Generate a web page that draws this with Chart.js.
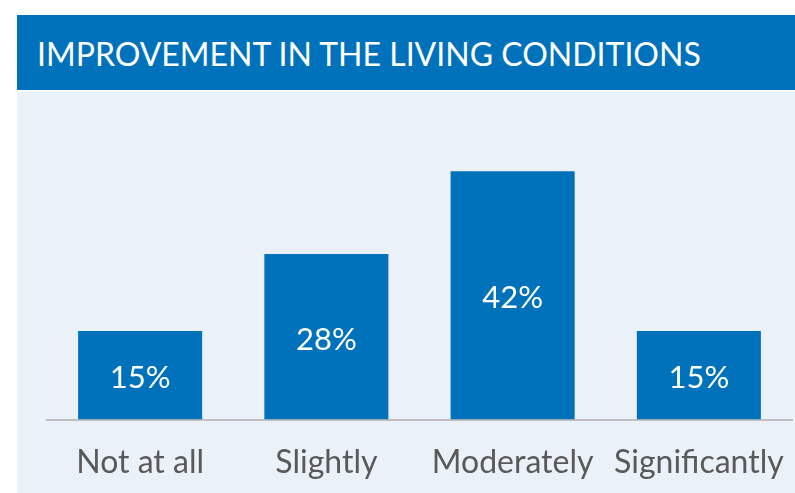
<!DOCTYPE html>
<html>
<head>
<meta charset="utf-8">
<script src="https://cdn.jsdelivr.net/npm/chart.js@4/dist/chart.umd.min.js"></script>
<style>
  html, body { margin:0; padding:0; background:#ffffff; width:795px; height:493px; overflow:hidden; }
  #header { position:absolute; left:17px; top:15px; width:778px; height:75px; background:#0071BB; }
  #title { position:absolute; left:37px; top:16px; height:75px; line-height:75px; color:#ffffff;
           font-family:Lato, sans-serif; font-size:32px; white-space:nowrap; }
  #panel { position:absolute; left:17px; top:92px; width:778px; height:401px; background:#EAF1F8; }
  #wrap { position:absolute; left:0; top:0; width:795px; height:493px; }
</style>
</head>
<body>
<div id="header"></div>
<div id="title">IMPROVEMENT IN THE LIVING CONDITIONS</div>
<div id="panel"></div>
<div id="wrap"><canvas id="c" width="795" height="493"></canvas></div>
<script>
const categories = ["Not at all", "Slightly", "Moderately", "Significantly"];
const values = [15, 28, 42, 15];
const valueLabels = ["15%", "28%", "42%", "15%"];

const FONT = "Lato, sans-serif";

const barLabels = {
  id: "barLabels",
  afterDatasetsDraw(chart) {
    const ctx = chart.ctx;
    const meta = chart.getDatasetMeta(0);
    ctx.save();
    ctx.fillStyle = "#ffffff";
    ctx.font = "31px " + FONT;
    ctx.textAlign = "center";
    ctx.textBaseline = "alphabetic";
    meta.data.forEach((bar, i) => {
      const mid = (bar.y + bar.base) / 2;
      ctx.fillText(valueLabels[i], bar.x, mid + 13);
    });
    ctx.restore();
  }
};

new Chart(document.getElementById("c"), {
  type: "bar",
  data: {
    labels: categories,
    datasets: [{
      data: values,
      backgroundColor: "#0071BB",
      borderWidth: 0,
      barPercentage: 0.666,
      categoryPercentage: 1.0
    }]
  },
  options: {
    responsive: false,
    animation: false,
    devicePixelRatio: 1,
    layout: { padding: { left: 47, right: 3, top: 124, bottom: -13 } },
    plugins: { legend: { display: false }, tooltip: { enabled: false }, title: { display: false } },
    scales: {
      x: {
        grid: { display: false, drawTicks: false },
        border: { display: true, color: "#BFBFBF", width: 2 },
        ticks: { color: "#595959", font: { family: FONT, size: 32 }, padding: 24, maxRotation: 0, autoSkip: false },
        afterFit(scale) { scale.paddingLeft = 0; scale.paddingRight = 0; }
      },
      y: {
        display: false,
        min: 0,
        max: 50
      }
    }
  },
  plugins: [barLabels]
});
</script>
</body>
</html>
